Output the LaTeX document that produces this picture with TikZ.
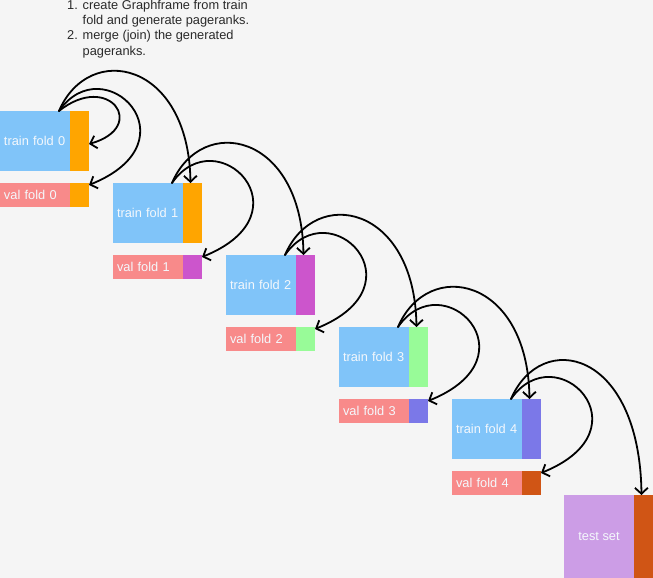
\documentclass[tikz,border=0pt]{standalone}
\usepackage{fontspec}
\setmainfont{Liberation Sans}
\usetikzlibrary{arrows.meta}
\definecolor{bg}{HTML}{F5F5F5}
\definecolor{trainblue}{HTML}{80C4F9}
\definecolor{valpink}{HTML}{F88A8A}
\definecolor{cA}{HTML}{FFA500}
\definecolor{cB}{HTML}{CC55CC}
\definecolor{cC}{HTML}{98FB98}
\definecolor{cD}{HTML}{7B78E8}
\definecolor{cE}{HTML}{D05515}
\definecolor{testpurple}{HTML}{CC9DE6}
\definecolor{notetext}{HTML}{2A2A2A}
\definecolor{boxtext}{HTML}{F4F8FC}
\tikzset{
  boxfont/.style={font=\fontsize{12.8}{15}\selectfont},
  trainbox/.style={boxfont, anchor=north west, fill=trainblue, text=boxtext,
    inner xsep=4pt, inner ysep=0pt, outer sep=0pt, text width=62pt,
    align=left, minimum height=60pt},
  valbox/.style={boxfont, anchor=north west, fill=valpink, text=boxtext,
    inner xsep=4pt, inner ysep=0pt, outer sep=0pt, text width=62pt,
    align=left, minimum height=24pt},
  testbox/.style={boxfont, anchor=north west, fill=testpurple, text=boxtext,
    inner sep=0pt, outer sep=0pt, minimum width=70pt, minimum height=83pt},
  strip/.style={anchor=north west, inner sep=0pt, outer sep=0pt,
    minimum width=19pt, minimum height=#1},
  conn/.style={draw=black, line width=1.8pt, line cap=round,
    -{Straight Barb[length=6pt,width=13pt]}},
}
\begin{document}
\begin{tikzpicture}[x=1pt,y=-1pt]
\useasboundingbox (0,0) rectangle (653,578);
\fill[bg] (0,0) rectangle (653,578);

% note
\node[anchor=base west, inner sep=0pt, text=notetext,
  font=\fontsize{12.8}{15.2}\selectfont] (note) at (67,9.5)
  {\begin{tabular}[t]{@{}p{15.5pt}@{}l@{}}
   1. & create Graphframe from train\\
      & fold and generate pageranks.\\
   2. & merge (join) the generated\\
      & pageranks.
   \end{tabular}};

% folds
\foreach \k/\ct/\cv in {0/cA/cA, 1/cA/cB, 2/cB/cC, 3/cC/cD, 4/cD/cE}{
  \node[trainbox] (t\k) at (113*\k, 111+72*\k) {train fold \k};
  \node[strip=60pt, fill=\ct] (tc\k) at (t\k.north east) {};
  \node[valbox] (v\k) at (113*\k, 183+72*\k) {val fold \k};
  \node[strip=24pt, fill=\cv] (vc\k) at (v\k.north east) {};
}
% test set
\node[testbox] (ts) at (564,495) {test set};
\node[strip=83pt, fill=cE] (tsc) at (ts.north east) {};

% self loop of fold 0
\draw[conn] ([xshift=-11pt]t0.north east) .. controls +(50,-40) and +(60,-17) .. ([yshift=-3pt]tc0.east);

% train -> val curves
\foreach \k in {0,...,4}{
  \draw[conn] ([xshift=-11pt]t\k.north east) .. controls +(45,-65) and +(109,-44) .. ([yshift=-2pt]vc\k.north east);
}
% train -> next train curves
\foreach \k/\n in {0/1,1/2,2/3,3/4}{
  \draw[conn] ([xshift=-11pt]t\k.north east) .. controls +(30,-70) and +(-2,-122) .. ([xshift=-2pt]tc\n.north);
}
\draw[conn] ([xshift=-11pt]t4.north east) .. controls +(30,-70) and +(-2,-146) .. ([xshift=-2pt]tsc.north);
\end{tikzpicture}
\end{document}
